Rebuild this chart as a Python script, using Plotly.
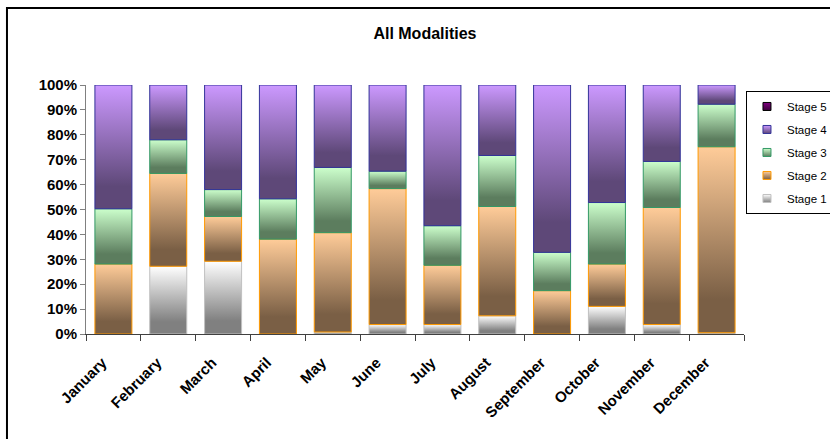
import plotly.graph_objects as go

# Monthly share of cases by stage (percent of the month's total)
months = ["January", "February", "March", "April", "May", "June",
          "July", "August", "September", "October", "November", "December"]
stage1 = [0.0, 27.2, 29.2, 0.0, 0.8, 3.8, 3.8, 7.3, 0.0, 11.1, 3.8, 0.5]
stage2 = [28.1, 37.3, 18.0, 38.1, 39.9, 54.6, 23.8, 43.9, 17.4, 17.0, 47.0, 74.7]
stage3 = [22.2, 13.5, 10.8, 16.2, 26.2, 7.0, 15.9, 20.5, 15.4, 24.7, 18.5, 17.1]
stage4 = [49.7, 22.0, 42.0, 45.7, 33.1, 34.6, 56.5, 28.3, 67.2, 47.2, 30.7, 7.7]
stage5 = [0.0, 0.0, 0.0, 0.0, 0.0, 0.0, 0.0, 0.0, 0.0, 0.0, 0.0, 0.0]
stage_names = ["Stage 1", "Stage 2", "Stage 3", "Stage 4", "Stage 5"]
y_ticks = [0, 10, 20, 30, 40, 50, 60, 70, 80, 90, 100]
y_tick_text = [f"{v}%" for v in y_ticks]

# (light top colour, dark bottom colour, outline colour) per stage
styles = {
    "Stage 1": ("#FFFFFF", "#808080", "#C0C0C0"),
    "Stage 2": ("#FFCC99", "#7A5F45", "#FF9900"),
    "Stage 3": ("#CCFFCC", "#5C7D5E", "#339966"),
    "Stage 4": ("#CC99FF", "#5E4878", "#333399"),
    "Stage 5": ("#800080", "#3A003A", "#000000"),
}
series = [stage1, stage2, stage3, stage4, stage5]

FONT = "Liberation Sans, Arial, sans-serif"
BAR_W = 0.675

fig = go.Figure()

# Legend keys, listed top-down from Stage 5
for name in reversed(stage_names):
    light, dark, edge = styles[name]
    fig.add_trace(go.Scatter(
        x=[None], y=[None], mode="markers", name=name, legendgroup=name,
        marker=dict(symbol="square", size=8, color=light,
                    gradient=dict(type="vertical", color=dark),
                    line=dict(color=edge, width=1)),
        hoverinfo="skip",
    ))

# 100% stacked columns, each segment with a vertical light-to-dark fill
for i, month in enumerate(months):
    total = sum(s[i] for s in series)
    base = 0.0
    for name, vals in zip(stage_names, series):
        share = 100.0 * vals[i] / total
        if share <= 0:
            continue
        top = base + share
        light, dark, edge = styles[name]
        x0, x1 = i - BAR_W / 2, i + BAR_W / 2
        fig.add_trace(go.Scatter(
            x=[x0, x1, x1, x0, x0], y=[base, base, top, top, base],
            mode="lines", fill="toself",
            fillgradient=dict(type="vertical",
                              colorscale=[[0, dark], [0.18, dark], [1, light]],
                              start=base, stop=top),
            line=dict(color=edge, width=1),
            showlegend=False, legendgroup=name, hoverinfo="skip",
        ))
        base = top

fig.update_layout(
    width=830, height=439,
    margin=dict(l=86, r=86, t=85, b=105, autoexpand=False),
    paper_bgcolor="white", plot_bgcolor="white",
    font=dict(family=FONT, color="black"),
    title=dict(text="<b>All Modalities</b>", x=0.512, xanchor="center",
               y=1 - 33 / 439, yanchor="middle",
               font=dict(size=16, family=FONT, color="black")),
    showlegend=True,
    legend=dict(x=1.003, xanchor="left", y=0.976, yanchor="top",
                bgcolor="white", bordercolor="black", borderwidth=1,
                font=dict(size=11.5, family=FONT, color="black"),
                tracegroupgap=4, itemclick=False, itemdoubleclick=False),
    shapes=[dict(type="rect", xref="paper", yref="paper",
                 x0=-0.1201, x1=1.14, y0=-0.45, y1=1.3092,
                 line=dict(color="black", width=2), fillcolor="rgba(0,0,0,0)",
                 layer="below")],
)

fig.update_xaxes(
    range=[-0.5, len(months) - 0.5], showgrid=False, zeroline=False,
    tickmode="array", tickvals=list(range(len(months))), ticktext=months,
    ticks="", tickangle=-45, ticklabelstandoff=13, ticklabelshift=-11,
    tickfont=dict(size=15, family=FONT, color="black", weight="bold"),
    showline=True, linecolor="#404040", linewidth=1,
    minor=dict(tickmode="linear", tick0=-0.5, dtick=1, ticks="outside",
               ticklen=6, tickcolor="#404040", tickwidth=1),
)
fig.update_yaxes(
    range=[0, 100], showgrid=False, zeroline=False,
    tickmode="array", tickvals=y_ticks, ticktext=y_tick_text,
    ticks="outside", ticklen=5, tickcolor="#808080",
    tickfont=dict(size=15, family=FONT, color="black", weight="bold"),
    showline=True, linecolor="#808080", linewidth=1,
)

fig.write_html("out.html")
